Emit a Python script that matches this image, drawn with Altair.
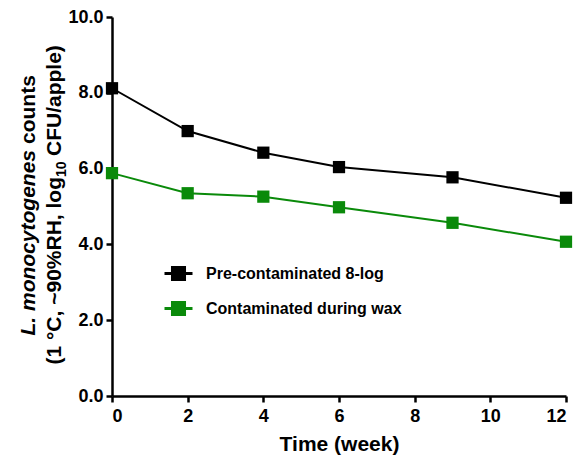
import altair as alt
import pandas as pd

# Storage time (weeks) and L. monocytogenes counts (log10 CFU/apple)
weeks = [0, 2, 4, 6, 9, 12]
pre_contaminated = [8.12, 6.99, 6.42, 6.04, 5.77, 5.23]
during_wax = [5.88, 5.35, 5.26, 4.98, 4.57, 4.07]

series_names = ["Pre-contaminated 8-log", "Contaminated during wax"]
series_colors = ["#000000", "#0a8a0a"]

x_ticks = [0, 2, 4, 6, 8, 10, 12]
y_ticks = [0, 2, 4, 6, 8, 10]

rows = []
for name, vals in zip(series_names, [pre_contaminated, during_wax]):
    for w, v in zip(weeks, vals):
        rows.append({"week": w, "count": v, "series": name})
df = pd.DataFrame(rows)

W, H = 454, 379
FONT = "Liberation Sans"

x_enc = alt.X(
    "week:Q",
    scale=alt.Scale(domain=[0, 12], nice=False),
    axis=alt.Axis(values=x_ticks, title="Time (week)", titlePadding=8, labelPadding=5),
)
y_enc = alt.Y(
    "count:Q",
    scale=alt.Scale(domain=[0, 10], nice=False),
    axis=alt.Axis(values=y_ticks, format=".1f", title=None),
)
color_enc = alt.Color(
    "series:N",
    scale=alt.Scale(domain=series_names, range=series_colors),
    sort=series_names,
    legend=alt.Legend(
        title=None,
        orient="none",
        legendX=51,
        legendY=241,
        padding=0,
        symbolType="M-1,0H1M-0.43,-0.43H0.43V0.43H-0.43Z",
        symbolSize=784,
        symbolStrokeWidth=3,
        labelFont=FONT,
        labelFontSize=16,
        labelFontWeight="bold",
        labelColor="black",
        labelOffset=12,
        labelLimit=400,
        rowPadding=7,
    ),
)

base = alt.Chart(df)
lines = base.mark_line(strokeWidth=2).encode(x=x_enc, y=y_enc, color=color_enc)
points = base.mark_point(shape="square", filled=True, size=150, opacity=1).encode(
    x=x_enc, y=y_enc, color=color_enc
)

# Rotated y-axis title with mixed styling (italic species name, subscript 10)
one = alt.Data(values=[{}])
txt = dict(angle=270, font=FONT, fontWeight="bold", color="black", baseline="alphabetic")
t1a = alt.Chart(one).mark_text(align="right", fontSize=21, fontStyle="italic", **txt).encode(
    x=alt.value(-77), y=alt.value(133), text=alt.value("L. monocytogenes")
)
t1b = alt.Chart(one).mark_text(align="left", fontSize=21, **txt).encode(
    x=alt.value(-77), y=alt.value(127), text=alt.value("counts")
)
t2a = alt.Chart(one).mark_text(align="right", fontSize=21, **txt).encode(
    x=alt.value(-51), y=alt.value(160), text=alt.value("(1 \u00b0C, ~90%RH, log")
)
t2b = alt.Chart(one).mark_text(align="left", fontSize=14, **txt).encode(
    x=alt.value(-46), y=alt.value(160), text=alt.value("10")
)
t2c = alt.Chart(one).mark_text(align="left", fontSize=21, **txt).encode(
    x=alt.value(-51), y=alt.value(139), text=alt.value("CFU/apple)")
)

chart = (
    alt.layer(lines, points, t1a, t1b, t2a, t2b, t2c)
    .properties(
        width=W,
        height=H,
        autosize=alt.AutoSizeParams(type="none"),
        padding={"left": 112, "top": 17, "right": 13, "bottom": 62},
        background="white",
    )
    .configure_view(stroke=None)
    .configure_axis(
        grid=False,
        domainColor="black",
        domainWidth=2.5,
        tickColor="black",
        tickWidth=2.5,
        tickSize=6,
        labelFont=FONT,
        labelFontSize=18,
        labelFontWeight="bold",
        labelColor="black",
        labelPadding=3,
        titleFont=FONT,
        titleFontSize=21,
        titleFontWeight="bold",
        titleColor="black",
    )
)

chart.save("out.html", embed_options={"renderer": "svg", "actions": False})
